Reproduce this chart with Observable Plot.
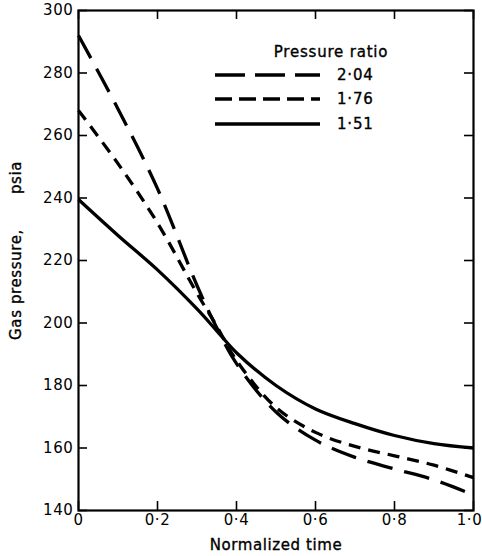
<!DOCTYPE html>
<html>
<head>
<meta charset="utf-8">
<script src="https://cdn.jsdelivr.net/npm/d3@7"></script>
<script src="https://cdn.jsdelivr.net/npm/@observablehq/plot@0.6"></script>
<style>
  html, body { margin: 0; padding: 0; background: #fff; }
  #wrap { position: relative; width: 482px; height: 556px; font-family: "DejaVu Sans", sans-serif; }
  #wrap svg.plot { position: absolute; left: 0; top: 0; }
  #legend { position: absolute; left: 0; top: 0; width: 482px; height: 160px; pointer-events: none; }
</style>
</head>
<body>
<div id="wrap"></div>
<script>
// ---- data ----
const times = [0, 0.1, 0.2, 0.3, 0.35, 0.4, 0.5, 0.6, 0.7, 0.8, 0.9, 1.0];
const ratio204 = [292, 268.5, 243, 212, 198.5, 187, 171.5, 162.5, 157, 153.3, 149.8, 145];
const ratio176 = [268, 251, 232, 209.5, 199, 188, 173, 165, 160.5, 157.5, 154.5, 150.5];
const ratio151 = [239.5, 228, 217, 204.5, 197.5, 190.5, 180, 172.5, 167.8, 164, 161.4, 160];
const seriesNames = ["2·04", "1·76", "1·51"];
const xTicks = [0, 0.2, 0.4, 0.6, 0.8, 1.0];
const yTicks = [140, 160, 180, 200, 220, 240, 260, 280, 300];
const xLabel = "Normalized time";
const yLabelMain = "Gas pressure,";
const yLabelUnit = "psia";
const legendTitle = "Pressure ratio";

const dashes = { "2·04": "26,12", "1·76": "12,8", "1·51": null };
const legendDashes = { "2·04": "30,10", "1·76": "17,7", "1·51": null };

const rows = [];
[ratio204, ratio176, ratio151].forEach((vals, i) => {
  vals.forEach((v, j) => rows.push({ series: seriesNames[i], t: times[j], p: v }));
});

const fmtX = d => d === 0 ? "0" : d3.format(".1f")(d).replace(".", "·");
const FONT = "DejaVu Sans, sans-serif";

const W = 482, H = 556, ML = 78, MR = 9, MT = 10, MB = 46;
const frameW = W - ML - MR, frameH = H - MT - MB, TICK = 9;

const lineMarks = seriesNames.map(name => Plot.line(rows.filter(r => r.series === name), {
  x: "t", y: "p", curve: "catmull-rom",
  stroke: "black", strokeWidth: 3.3,
  strokeDasharray: dashes[name] || undefined,
  strokeLinecap: "butt"
}));

const txt = { fontSize: 15, stroke: "black", strokeWidth: 0.35, fill: "black" };

const chart = Plot.plot({
  width: W,
  height: H,
  marginLeft: ML,
  marginRight: MR,
  marginTop: MT,
  marginBottom: MB,
  style: { fontFamily: FONT, fontSize: "15px", color: "black", background: "white", letterSpacing: "0.6px" },
  x: { domain: [0, 1], label: null },
  y: { domain: [140, 300], label: null },
  marks: [
    Plot.frame({ stroke: "black", fill: "none", strokeWidth: 2.2 }),
    // tick labels
    Plot.axisX(xTicks.slice(0, -1), { anchor: "bottom", tickFormat: fmtX, tickSize: 0, tickPadding: 4, label: null, ...txt }),
    Plot.axisX(xTicks.slice(-1), { anchor: "bottom", tickFormat: fmtX, tickSize: 0, tickPadding: 4, dx: -4, label: null, ...txt }),
    Plot.axisY(yTicks, { anchor: "left", tickSize: 0, tickPadding: 5, label: null, ...txt }),
    // inward ticks on all four sides
    Plot.tickX(xTicks, { x: d => d, insetTop: frameH - TICK, stroke: "black", strokeWidth: 1.6 }),
    Plot.tickX(xTicks, { x: d => d, insetBottom: frameH - TICK, stroke: "black", strokeWidth: 1.6 }),
    Plot.tickY(yTicks, { y: d => d, insetRight: frameW - TICK, stroke: "black", strokeWidth: 1.6 }),
    Plot.tickY(yTicks, { y: d => d, insetLeft: frameW - TICK, stroke: "black", strokeWidth: 1.6 }),
    ...lineMarks,
    Plot.text([xLabel], { frameAnchor: "bottom", lineAnchor: "middle", textAnchor: "middle", dy: 35, text: d => d, ...txt }),
    Plot.text([yLabelMain], { frameAnchor: "left", textAnchor: "middle", lineAnchor: "middle", dx: -62, dy: 24, rotate: -90, text: d => d, ...txt }),
    Plot.text([yLabelUnit], { frameAnchor: "left", textAnchor: "middle", lineAnchor: "middle", dx: -62, dy: -83, rotate: -90, text: d => d, ...txt })
  ]
});
chart.classList.add("plot");
document.getElementById("wrap").appendChild(chart);

// ---- legend overlay ----
const legend = d3.select("#wrap").append("svg")
  .attr("id", "legend").attr("width", 482).attr("height", 160)
  .style("font-family", FONT).style("font-size", "15px").style("letter-spacing", "0.8px");
const styleText = sel => sel.attr("fill", "black").attr("stroke", "black").attr("stroke-width", 0.35);
styleText(legend.append("text").attr("x", 331).attr("y", 52).attr("text-anchor", "middle")
  .attr("dominant-baseline", "central").text(legendTitle));
const rowY = [75, 99, 124];
seriesNames.forEach((name, i) => {
  const ln = legend.append("line").attr("x1", 215).attr("x2", 320)
    .attr("y1", rowY[i]).attr("y2", rowY[i])
    .attr("stroke", "black").attr("stroke-width", 3.3);
  if (legendDashes[name]) ln.attr("stroke-dasharray", legendDashes[name]);
  styleText(legend.append("text").attr("x", 337).attr("y", rowY[i]).attr("dominant-baseline", "central").text(name));
});
</script>
</body>
</html>
